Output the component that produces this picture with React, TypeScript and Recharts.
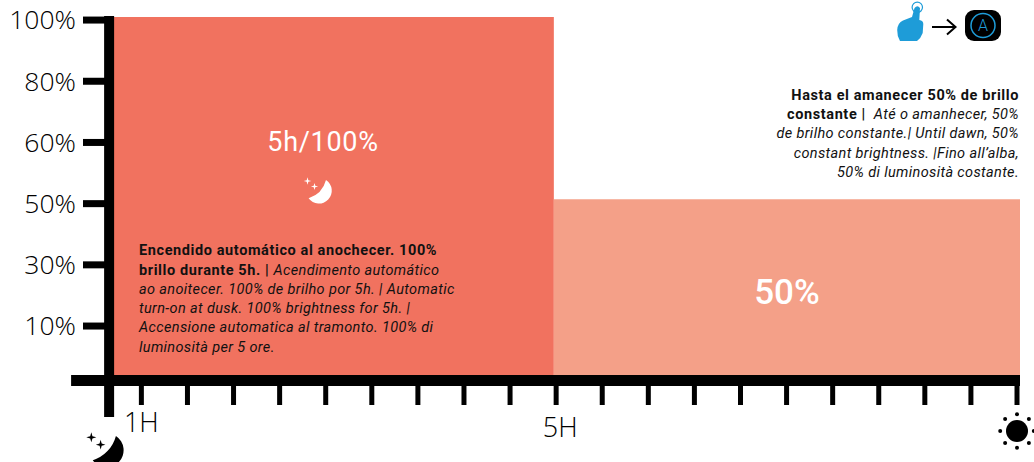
import React from "react";
import { ComposedChart, Area, XAxis, YAxis, ReferenceLine } from "recharts";

const levelLabels = ["10%", "30%", "50%", "60%", "80%", "100%"];
const levelTicks = [1, 2, 3, 4, 5, 6];
const xTicks = [0, 1, 2, 3, 4, 5, 6, 7, 8, 9, 10, 11, 12, 13, 14, 15, 16, 17, 18, 19];
const xTickLabels: Record<number, string> = { 0: "1H", 9: "5H" };
const stepPositions = [-0.594, 8.95, 19.065];
const fullBrightness = [6.05, 6.05, null];
const halfBrightness = [null, 3.07, 3.07];
const chartData = stepPositions.map((x, i) => ({ x, full: fullBrightness[i], half: halfBrightness[i] }));

const leftBold = ["Encendido automático al anochecer. 100%", "brillo durante 5h. | "];
const leftItalic = [
  "Acendimento automático",
  "ao anoitecer. 100% de brilho por 5h. | Automatic",
  "turn-on at dusk. 100% brightness for 5h. |",
  "Accensione automatica al tramonto. 100% di",
  "luminosità per 5 ore.",
];
const rightBold = ["Hasta el amanecer 50% de brillo", "constante |"];
const rightItalic = [
  "Até o amanhecer, 50%",
  "de brilho constante.| Until dawn, 50%",
  "constant brightness. |Fino all’alba,",
  "50% di luminosità costante.",
];

const DIN = "Roboto, sans-serif";
const AXISF = "'Open Sans', sans-serif";
const B = { fontWeight: 700, letterSpacing: 0.6 };
const I = { fontStyle: "italic", letterSpacing: 0.36 };

function Star({ x, y, r, fill }: any) {
  const k = r * 0.22;
  return (
    <path
      fill={fill}
      d={`M${x} ${y - r}L${x + k} ${y - k}L${x + r} ${y}L${x + k} ${y + k}L${x} ${y + r}L${x - k} ${y + k}L${x - r} ${y}L${x - k} ${y - k}Z`}
    />
  );
}

function Moon({ x, y, s, fill }: any) {
  return (
    <g transform={`translate(${x} ${y}) scale(${s})`}>
      <path fill={fill} d="M21 3A12.8 12.8 0 1 1 3.6 21.2A26 26 0 0 0 21 3Z" />
      <Star x={2.5} y={4} r={3.8} fill={fill} />
      <Star x={9.5} y={9.5} r={3.6} fill={fill} />
    </g>
  );
}

function Sun({ x, y }: any) {
  const rays = [0, 45, 90, 135, 180, 225, 270, 315];
  return (
    <g>
      <circle cx={x} cy={y} r={11} fill="#000" />
      {rays.map((a) => (
        <circle
          key={a}
          cx={x + 16.8 * Math.cos((a * Math.PI) / 180)}
          cy={y + 16.8 * Math.sin((a * Math.PI) / 180)}
          r={2}
          fill="#000"
        />
      ))}
    </g>
  );
}

function Hand() {
  const c = "#1e9cd8";
  return (
    <g>
      <circle cx={917.3} cy={7.3} r={5.2} fill="none" stroke={c} strokeWidth={1.2} />
      <path
        fill={c}
        d="M914.5 8Q917.5 4.5 920 8L919.3 20Q923.3 20.5 923.3 24L922.7 33Q921 38 917 41L900 41Q897 36 897.2 30Q897.5 23 903 20.5L912 17Z"
      />
    </g>
  );
}

function XTick({ x, payload }: any) {
  const label = xTickLabels[payload.value];
  if (!label) return <g />;
  const is5 = payload.value === 9;
  return (
    <text
      x={x + (is5 ? 4 : 0)}
      y={is5 ? 437 : 432}
      textAnchor="middle"
      fontFamily={AXISF}
      fontWeight={300}
      fontSize={27}
      fill="#000"
    >
      {label}
    </text>
  );
}

export default function App() {
  return (
    <div style={{ position: "fixed", left: 0, top: 0, width: 1034, height: 462, overflow: "hidden", background: "#fff" }}>
      <ComposedChart
        width={1034}
        height={462}
        data={chartData}
        margin={{ top: 17, right: 14, bottom: 0, left: 0 }}
      >
        <XAxis
          dataKey="x"
          type="number"
          domain={[-0.594, 19.065]}
          ticks={xTicks}
          interval={0}
          allowDataOverflow
          height={87}
          axisLine={false}
          tickSize={30}
          tickLine={{ stroke: "#000", strokeWidth: 5 }}
          tick={<XTick />}
        />
        <YAxis
          type="number"
          domain={[0.2, 6.05]}
          ticks={levelTicks}
          interval={0}
          allowDataOverflow
          width={114}
          axisLine={false}
          tickSize={31}
          tickMargin={7}
          tickLine={{ stroke: "#000", strokeWidth: 7 }}
          tickFormatter={(v: number) => levelLabels[v - 1]}
          tick={{ fontFamily: AXISF, fontWeight: 300, fontSize: 26.5, fill: "#000" }}
        />
        <Area dataKey="full" type="linear" stroke="none" fill="#f1725f" fillOpacity={1} isAnimationActive={false} dot={false} activeDot={false} />
        <Area dataKey="half" type="linear" stroke="none" fill="#f4a088" fillOpacity={1} isAnimationActive={false} dot={false} activeDot={false} />
        <ReferenceLine
          segment={[{ x: -1.525, y: 0.11 }, { x: 19.065, y: 0.11 }]}
          stroke="#000"
          strokeWidth={11}
          ifOverflow="visible"
        />
        <ReferenceLine
          segment={[{ x: -0.7, y: 6.067 }, { x: -0.7, y: -0.486 }]}
          stroke="#000"
          strokeWidth={10}
          ifOverflow="visible"
        />
      </ComposedChart>
      <svg width={1034} height={462} style={{ position: "absolute", left: 0, top: 0, pointerEvents: "none" }}>
        <text x={323} y={151} textAnchor="middle" fontFamily={DIN} fontSize={27} letterSpacing={0.7} fill="#fff">5h/100%</text>
        <text x={787} y={304} textAnchor="middle" fontFamily={DIN} fontWeight={500} fontSize={35} fill="#fff">50%</text>
        <Moon x={305} y={177} s={1} fill="#fff" />
        <Moon x={88} y={432} s={1.33} fill="#000" />
        <Sun x={1017} y={431} />
        <Hand />
        <path d="M932 27H955M947 19.5L955.5 27L947 34.5" fill="none" stroke="#000" strokeWidth={2} />
        <rect x={965} y={10} width={36} height={31} rx={9} fill="#000" />
        <circle cx={983} cy={25.5} r={12} fill="none" stroke="#1e9cd8" strokeWidth={1.5} />
        <text x={983} y={31} textAnchor="middle" fontFamily={DIN} fontWeight={300} fontSize={16} fill="#1e9cd8">A</text>

        <g fontFamily={DIN} fontSize={14.5} fill="#111">
          <text x={139} y={255} style={B}>{leftBold[0]}</text>
          <text x={139} y={275}>
            <tspan style={B}>{leftBold[1]}</tspan>
            <tspan style={I}>{leftItalic[0]}</tspan>
          </text>
          <text x={139} y={294} style={I}>{leftItalic[1]}</text>
          <text x={139} y={313} style={I}>{leftItalic[2]}</text>
          <text x={139} y={332} style={I}>{leftItalic[3]}</text>
          <text x={139} y={352} style={I}>{leftItalic[4]}</text>
          <text x={1019} y={100} textAnchor="end" style={B}>{rightBold[0]}</text>
          <text x={1019} y={119} textAnchor="end">
            <tspan style={B}>{rightBold[1]}</tspan>
            <tspan style={I} dx={8}>{rightItalic[0]}</tspan>
          </text>
          <text x={1019} y={138} textAnchor="end" style={I}>{rightItalic[1]}</text>
          <text x={1019} y={158} textAnchor="end" style={I}>{rightItalic[2]}</text>
          <text x={1019} y={177} textAnchor="end" style={I}>{rightItalic[3]}</text>
        </g>
      </svg>
    </div>
  );
}
